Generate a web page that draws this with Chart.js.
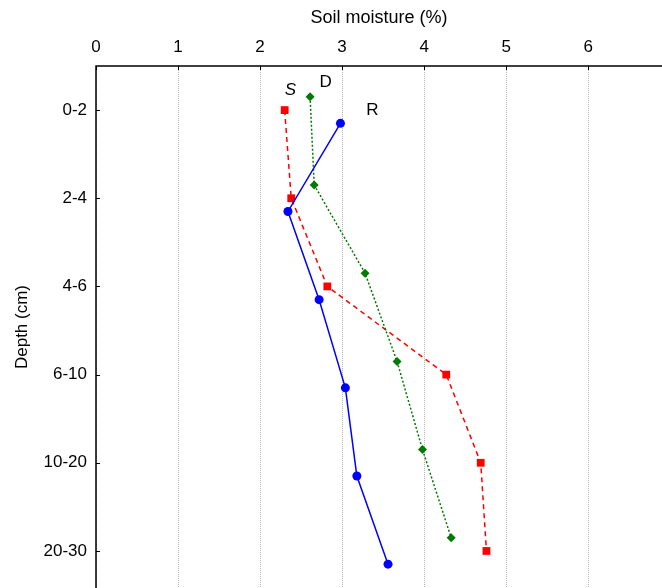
<!DOCTYPE html>
<html>
<head>
<meta charset="utf-8">
<script src="https://cdn.jsdelivr.net/npm/chart.js@4"></script>
<style>
  html, body { margin: 0; padding: 0; background: #fff; overflow: hidden; }
  canvas { display: block; }
</style>
</head>
<body>
<canvas id="chart" width="662" height="588"></canvas>
<script>
// depth classes (cm), top to bottom
var depths = ["0-2", "2-4", "4-6", "6-10", "10-20", "20-30"];
// soil moisture (%) per treatment
var moistS = [2.30, 2.38, 2.82, 4.27, 4.69, 4.76];
var moistD = [2.61, 2.66, 3.28, 3.67, 3.98, 4.33];
var moistR = [2.98, 2.34, 2.72, 3.04, 3.18, 3.56];
// small vertical shift so the series don't sit on top of each other
var shiftS = 0, shiftD = -0.15, shiftR = 0.15;
var xTicks = [0, 1, 2, 3, 4, 5, 6];

function pts(vals, shift) {
  return vals.map(function (v, i) { return { x: v, y: i + shift }; });
}

var font = "'Liberation Sans', Arial, sans-serif";

// series name labels written next to the top points
var seriesLabels = {
  id: 'seriesLabels',
  afterDatasetsDraw: function (chart) {
    var ctx = chart.ctx, xs = chart.scales.x, ys = chart.scales.y;
    ctx.save();
    ctx.fillStyle = '#000';
    ctx.textAlign = 'center';
    ctx.textBaseline = 'middle';
    ctx.font = 'italic 17px ' + font;
    ctx.fillText('S', xs.getPixelForValue(2.37), ys.getPixelForValue(-0.23));
    ctx.font = '17px ' + font;
    ctx.fillText('D', xs.getPixelForValue(2.8), ys.getPixelForValue(-0.32));
    ctx.fillText('R', xs.getPixelForValue(3.37), ys.getPixelForValue(0));
    ctx.restore();
  }
};

// inward tick marks + axis lines (left and top)
var frame = {
  id: 'frame',
  afterDraw: function (chart) {
    var ctx = chart.ctx, a = chart.chartArea;
    var xs = chart.scales.x, ys = chart.scales.y;
    ctx.save();
    ctx.strokeStyle = '#000';
    ctx.lineWidth = 1.5;
    ctx.beginPath();
    ctx.moveTo(a.left, a.bottom);
    ctx.lineTo(a.left, a.top);
    ctx.lineTo(a.right, a.top);
    ctx.stroke();
    ctx.lineWidth = 1;
    ctx.beginPath();
    xTicks.forEach(function (t) {
      var px = Math.round(xs.getPixelForValue(t)) + 0.5;
      ctx.moveTo(px, a.top);
      ctx.lineTo(px, a.top + 4);
    });
    depths.forEach(function (d, i) {
      var py = Math.round(ys.getPixelForValue(i)) + 0.5;
      ctx.moveTo(a.left, py);
      ctx.lineTo(a.left + 4, py);
    });
    ctx.stroke();
    ctx.restore();
  }
};

new Chart(document.getElementById('chart'), {
  type: 'line',
  data: {
    datasets: [
      {
        label: 'R',
        data: pts(moistR, shiftR),
        borderColor: '#0000ff',
        backgroundColor: '#0000ff',
        borderWidth: 1.5,
        pointStyle: 'circle',
        pointRadius: 4.5,
        pointBorderWidth: 0
      },
      {
        label: 'D',
        data: pts(moistD, shiftD),
        borderColor: '#007a00',
        backgroundColor: '#007a00',
        borderWidth: 1.5,
        borderDash: [2, 2],
        pointStyle: 'rectRot',
        pointRadius: 4.5,
        pointBorderWidth: 0
      },
      {
        label: 'S',
        data: pts(moistS, shiftS),
        borderColor: '#ff0000',
        backgroundColor: '#ff0000',
        borderWidth: 1.5,
        borderDash: [5, 4],
        pointStyle: 'rect',
        pointRadius: 5.5,
        pointBorderWidth: 0
      }
    ]
  },
  options: {
    responsive: false,
    maintainAspectRatio: false,
    animation: false,
    layout: { autoPadding: false, padding: 0 },
    plugins: {
      legend: { display: false },
      tooltip: { enabled: false }
    },
    scales: {
      x: {
        type: 'linear',
        position: 'top',
        min: 0,
        max: 6.9,
        afterBuildTicks: function (s) {
          s.ticks = xTicks.map(function (v) { return { value: v }; });
        },
        afterFit: function (s) {
          s.height = 66;
          s.paddingLeft = 0; s.paddingRight = 0;
        },
        ticks: {
          color: '#000',
          font: { family: font, size: 17 },
          padding: 8
        },
        grid: {
          color: '#b4b4b4',
          lineWidth: 1,
          tickLength: 0,
          drawTicks: false
        },
        border: { display: false, dash: [1, 1] },
        title: {
          display: true,
          text: 'Soil moisture (%)',
          color: '#000',
          font: { family: font, size: 18 },
          padding: { top: 7, bottom: 4 }
        }
      },
      y: {
        type: 'linear',
        reverse: true,
        min: -0.5,
        max: 5.42,
        afterBuildTicks: function (s) {
          s.ticks = depths.map(function (d, i) { return { value: i }; });
        },
        afterFit: function (s) {
          s.width = 96;
          s.paddingTop = 0; s.paddingBottom = 0;
        },
        ticks: {
          color: '#000',
          font: { family: font, size: 17 },
          padding: 9,
          callback: function (v) { return depths[v]; }
        },
        grid: { display: false, drawTicks: false },
        border: { display: false },
        title: {
          display: true,
          text: 'Depth (cm)',
          color: '#000',
          font: { family: font, size: 17 },
          padding: { top: 12, bottom: 4 }
        }
      }
    }
  },
  plugins: [seriesLabels, frame]
});
</script>
</body>
</html>
